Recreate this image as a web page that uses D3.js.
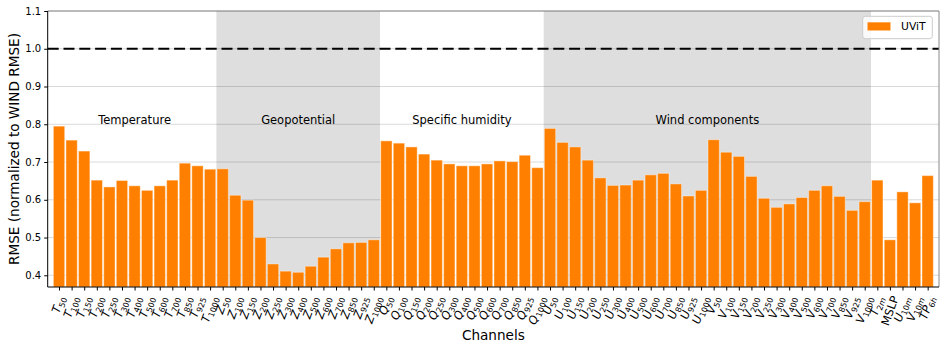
<!DOCTYPE html>
<html>
<head>
<meta charset="utf-8">
<script src="https://cdn.jsdelivr.net/npm/d3@7"></script>
<style>
  body { margin: 0; background: #fff; }
  svg { display: block; }
</style>
</head>
<body>
<svg id="chart"></svg>
<script>
// RMSE per channel, normalised to WIND RMSE (UViT)

const WIDTH = 946;
const HEIGHT = 350;
const PLOT_LEFT = 47.7;
const PLOT_RIGHT = 939;
const PLOT_TOP = 11;
const PLOT_BOTTOM = 287;

const FONT = '"DejaVu Sans", sans-serif';

// --- data ---
const levels = ['50', '100', '150', '200', '250', '300', '400', '500', '600', '700', '850', '925', '1000'];

const temperatureValues = [0.795, 0.758, 0.729, 0.652, 0.634, 0.651, 0.637, 0.625, 0.637, 0.652, 0.697, 0.690, 0.681];
const geopotentialValues = [0.682, 0.612, 0.599, 0.500, 0.430, 0.411, 0.408, 0.424, 0.448, 0.470, 0.486, 0.487, 0.494];
const humidityValues = [0.756, 0.750, 0.740, 0.721, 0.705, 0.695, 0.690, 0.690, 0.695, 0.703, 0.701, 0.718, 0.685];
const uWindValues = [0.789, 0.752, 0.740, 0.705, 0.658, 0.638, 0.639, 0.652, 0.666, 0.670, 0.642, 0.610, 0.625];
const vWindValues = [0.759, 0.726, 0.715, 0.662, 0.604, 0.580, 0.589, 0.606, 0.625, 0.637, 0.609, 0.572, 0.595];

const surfaceLabels = ['T_2m', 'MSLP', 'U_10m', 'V_10m', 'TP_6h'];
const surfaceValues = [0.652, 0.494, 0.621, 0.592, 0.664];

const yTicks = [0.4, 0.5, 0.6, 0.7, 0.8, 0.9, 1.0, 1.1];
const referenceValue = 1.0;
const seriesName = 'UViT';

// groups: name, first and last channel index, shaded background
const groupNames = ['Temperature', 'Geopotential', 'Specific humidity', 'Wind components'];
const groupStart = [0, 13, 26, 39];
const groupEnd = [12, 25, 38, 64];
const groupShaded = [false, true, false, true];

// build channel list
const channels = [];
[['T', temperatureValues], ['Z', geopotentialValues], ['Q', humidityValues], ['U', uWindValues], ['V', vWindValues]].
forEach(([v, vals]) => {
  levels.forEach((lv, i) => channels.push({ label: `${v}_${lv}`, value: vals[i] }));
});
surfaceLabels.forEach((l, i) => channels.push({ label: l, value: surfaceValues[i] }));

// --- scales ---
const x = d3.scaleLinear().
domain([-0.9, channels.length - 0.1]).
range([PLOT_LEFT, PLOT_RIGHT]);

const y = d3.scaleLinear().
domain([0.369, 1.1]).
range([PLOT_BOTTOM, PLOT_TOP]);

const BAR_W = 0.9;

const svg = d3.select('#chart').
attr('width', WIDTH).
attr('height', HEIGHT).
attr('font-family', FONT);

svg.append('rect').
attr('width', WIDTH).
attr('height', HEIGHT).
attr('fill', '#fff');

// shaded groups
svg.append('g').
selectAll('rect').
data(groupNames.map((n, i) => ({ s: groupStart[i], e: groupEnd[i], shaded: groupShaded[i] })).filter(d => d.shaded)).
enter().
append('rect').
attr('x', d => x(d.s - 0.5)).
attr('width', d => x(d.e + 0.5) - x(d.s - 0.5)).
attr('y', PLOT_TOP).
attr('height', PLOT_BOTTOM - PLOT_TOP).
attr('fill', '#dedede');

// grid
svg.append('g').
selectAll('line').
data(yTicks).
enter().
append('line').
attr('x1', PLOT_LEFT).
attr('x2', PLOT_RIGHT).
attr('y1', d => y(d)).
attr('y2', d => y(d)).
attr('stroke', '#000').
attr('stroke-opacity', 0.15).
attr('stroke-width', 1);

// bars
svg.append('g').
selectAll('rect').
data(channels).
enter().
append('rect').
attr('x', (d, i) => x(i - BAR_W / 2)).
attr('width', x(BAR_W) - x(0)).
attr('y', d => y(d.value)).
attr('height', d => y.range()[0] - y(d.value)).
attr('fill', '#ff8000').
attr('stroke', '#fff').
attr('stroke-opacity', 0.4).
attr('stroke-width', 1);

// reference line
svg.append('line').
attr('x1', PLOT_LEFT).
attr('x2', PLOT_RIGHT).
attr('y1', y(referenceValue)).
attr('y2', y(referenceValue)).
attr('stroke', '#000').
attr('stroke-width', 2).
attr('stroke-dasharray', '11,4.8');

// group labels
svg.append('g').
selectAll('text').
data(groupNames.map((n, i) => ({ name: n, mid: (groupStart[i] + groupEnd[i]) / 2 }))).
enter().
append('text').
attr('x', d => x(d.mid)).
attr('y', y(0.812)).
attr('text-anchor', 'middle').
attr('dominant-baseline', 'central').
attr('font-size', '11.5px').
attr('fill', '#000').
text(d => d.name);

// frame
svg.append('line').
attr('x1', PLOT_LEFT).attr('x2', PLOT_RIGHT).
attr('y1', PLOT_TOP).attr('y2', PLOT_TOP).
attr('stroke', '#888').attr('stroke-width', 1);
svg.append('line').
attr('x1', PLOT_RIGHT).attr('x2', PLOT_RIGHT).
attr('y1', PLOT_TOP).attr('y2', PLOT_BOTTOM).
attr('stroke', '#888').attr('stroke-width', 1);

// y axis
const yAxis = d3.axisLeft(y).
tickValues(yTicks).
tickFormat(d3.format('.1f')).
tickSize(3.5).
tickPadding(3);

const yAxisG = svg.append('g').
attr('transform', `translate(${PLOT_LEFT}, 0)`).
call(yAxis);
yAxisG.select('.domain').attr('d', `M0,${PLOT_TOP}V${PLOT_BOTTOM}`).attr('stroke', '#000');
yAxisG.selectAll('text').attr('font-size', '10px').attr('font-family', FONT).attr('fill', '#000');

// x axis (ticks only, labels drawn as rotated math text)
const xAxis = d3.axisBottom(x).
tickValues(d3.range(channels.length)).
tickFormat('').
tickSize(3.5);

const xAxisG = svg.append('g').
attr('transform', `translate(0, ${PLOT_BOTTOM})`).
call(xAxis);
xAxisG.select('.domain').attr('d', `M${PLOT_LEFT},0H${PLOT_RIGHT}`).attr('stroke', '#000');

const tickLabels = svg.append('g').
attr('font-size', '11.5px').
attr('fill', '#000');

const LABEL_TOP = PLOT_BOTTOM + 7;

channels.forEach((c, i) => {
  const parts = c.label.split('_');
  const g = tickLabels.append('g');
  const t = g.append('text').
  attr('text-anchor', 'middle').
  attr('transform', 'rotate(-70)');
  if (parts.length === 1) {
    t.text(parts[0]);
  } else {
    t.append('tspan').attr('font-style', 'italic').text(parts[0]);
    let first = true;
    parts[1].split('').forEach(ch => {
      const s = t.append('tspan').
      attr('font-size', '8px').
      attr('font-style', /[0-9]/.test(ch) ? 'normal' : 'italic').
      text(ch);
      if (first) { s.attr('dy', 2.6); first = false; }
    });
  }
  // centre the rotated label under its tick, top just below the tick mark
  const bb = g.node().getBBox();
  g.attr('transform', `translate(${x(i) - (bb.x + bb.width / 2)}, ${LABEL_TOP - bb.y})`);
});

// axis titles
svg.append('text').
attr('x', (PLOT_LEFT + PLOT_RIGHT) / 2).
attr('y', 340).
attr('text-anchor', 'middle').
attr('font-size', '13.6px').
text('Channels');

svg.append('text').
attr('transform', `translate(18.5, ${(PLOT_TOP + PLOT_BOTTOM) / 2}) rotate(-90)`).
attr('text-anchor', 'middle').
attr('font-size', '13.6px').
text('RMSE (normalized to WIND RMSE)');

// legend
const legendG = svg.append('g').attr('transform', 'translate(862.7, 16.3)');
legendG.append('rect').
attr('width', 69.6).
attr('height', 22.4).
attr('rx', 2.5).
attr('fill', '#fff').
attr('fill-opacity', 0.8).
attr('stroke', '#ccc').
attr('stroke-width', 1);
legendG.append('rect').
attr('x', 4.6).
attr('y', 5.8).
attr('width', 23.4).
attr('height', 8.6).
attr('fill', '#ff8000').
attr('stroke', '#fff').
attr('stroke-opacity', 0.4);
legendG.append('text').
attr('x', 38.3).
attr('y', 10.4).
attr('dominant-baseline', 'central').
attr('font-size', '10.8px').
text(seriesName);
</script>
</body>
</html>
